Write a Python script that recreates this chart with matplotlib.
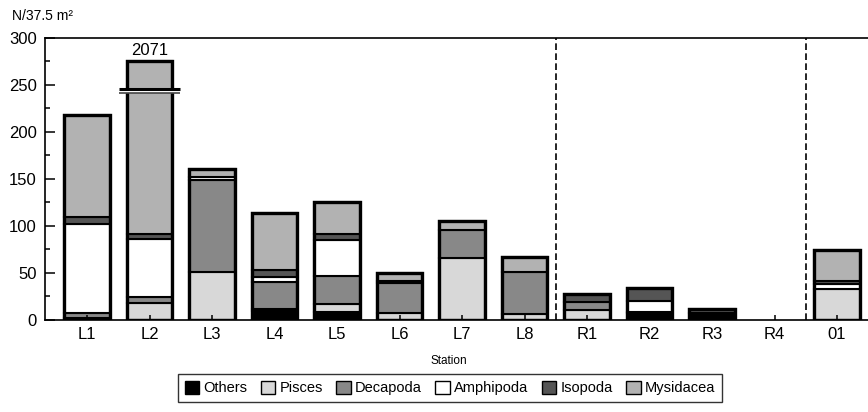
import matplotlib.pyplot as plt
from matplotlib.patches import Patch
from matplotlib.ticker import MultipleLocator

plt.rcParams['font.family'] = ['Liberation Sans', 'DejaVu Sans']

# data (N/37.5 m2)
stations = ['L1', 'L2', 'L3', 'L4', 'L5', 'L6', 'L7', 'L8', 'R1', 'R2', 'R3', 'R4', '01']
others = [2, 0, 0, 10, 9, 0, 0, 0, 0, 7, 7, 0, 0]
pisces = [0, 18, 51, 2, 8, 7, 66, 6.5, 11, 2, 0, 0, 33]
decapoda = [5, 6, 98, 28, 30, 32, 30, 45, 8, 0, 0, 0, 0]
amphipoda = [95, 62, 3.5, 6, 38, 0, 0, 0, 0, 11, 0, 0, 5]
isopoda = [8, 5, 0, 7, 6, 3, 0, 0, 9, 14.5, 4.5, 0, 4]
mysidacea = [108, 1980, 8, 61, 34, 8.5, 9, 16, 0, 0, 0, 0, 32]

layers = [
    ('Others', others, 'black'),
    ('Pisces', pisces, '#d8d8d8'),
    ('Decapoda', decapoda, '#888888'),
    ('Amphipoda', amphipoda, 'white'),
    ('Isopoda', isopoda, '#555555'),
    ('Mysidacea', mysidacea, '#b2b2b2'),
]

y_cap = 275          # bars taller than this are cut with a break mark
brk_lo, brk_hi = 241, 245.5
group_lines = [7.5, 11.5]

fig = plt.figure(figsize=(8.68, 4.12), dpi=100)
ax = fig.add_axes([0.0518, 0.2233, 0.95, 0.6845])

x = list(range(len(stations)))
w = 0.73
bottoms = [0.0] * len(stations)
for name, vals, col in layers:
    for i, v in enumerate(vals):
        if v <= 0:
            continue
        b = bottoms[i]
        top = min(b + v, y_cap)
        ax.bar(x[i], top - b, w, bottom=b, color=col, edgecolor='black',
               linewidth=1.5, zorder=1)
        bottoms[i] = b + v

# outer outline of each stack
for i, tot in enumerate(bottoms):
    if tot <= 0:
        continue
    ax.bar(x[i], min(tot, y_cap), w, fill=False, edgecolor='black',
           linewidth=2.4, zorder=1.2)
    if tot > y_cap:
        xs = [x[i] - w / 2 - 0.12, x[i] + w / 2 + 0.12]
        ax.fill_between(xs, brk_lo, brk_hi, color='white', zorder=1.5, lw=0)
        ax.hlines(brk_hi, xs[0], xs[1], color='black', lw=2.2, zorder=1.6)
        ax.hlines(brk_lo, xs[0], xs[1], color='#444444', lw=1.2, zorder=1.6)
        ax.text(x[i], y_cap + 4, f'{tot:.0f}', ha='center', va='bottom',
                fontsize=12)

for gx in group_lines:
    ax.axvline(gx, color='black', lw=1.2, ls=(0, (4, 2)), zorder=0.5)

ax.set_xlim(-0.673, 12.52)
ax.set_ylim(0, 300)
ax.set_xticks(x)
ax.set_xticklabels(stations)
ax.yaxis.set_major_locator(MultipleLocator(50))
ax.yaxis.set_minor_locator(MultipleLocator(25))
ax.tick_params(axis='y', which='major', direction='in', length=7, width=1.1,
               labelsize=12, pad=6)
ax.tick_params(axis='y', which='minor', direction='in', length=3.5, width=1.1)
ax.tick_params(axis='x', direction='in', length=3.5, width=1.1, labelsize=12,
               pad=5)
ax.spines['right'].set_visible(False)
for s in ['left', 'bottom', 'top']:
    ax.spines[s].set_linewidth(1.2)

ax.set_xlabel('Station', fontsize=8.5)
ax.xaxis.set_label_coords((448 - 45) / 823, -0.125)
fig.text(12 / 868, 1 - 16 / 412, 'N/37.5 m²', fontsize=10, va='center',
         ha='left')

handles = [Patch(facecolor=c, edgecolor='black', linewidth=1, label=n)
           for n, _, c in layers]
leg = fig.legend(handles=handles, loc='center', ncol=6,
                 bbox_to_anchor=(450 / 868, 1 - 388 / 412), fontsize=10.5,
                 frameon=True, fancybox=False, edgecolor='black',
                 handlelength=1.0, handleheight=1.0, handletextpad=0.3,
                 columnspacing=0.9, borderpad=0.45)
leg.get_frame().set_linewidth(1.0)

fig.savefig('out.png', dpi=100)
